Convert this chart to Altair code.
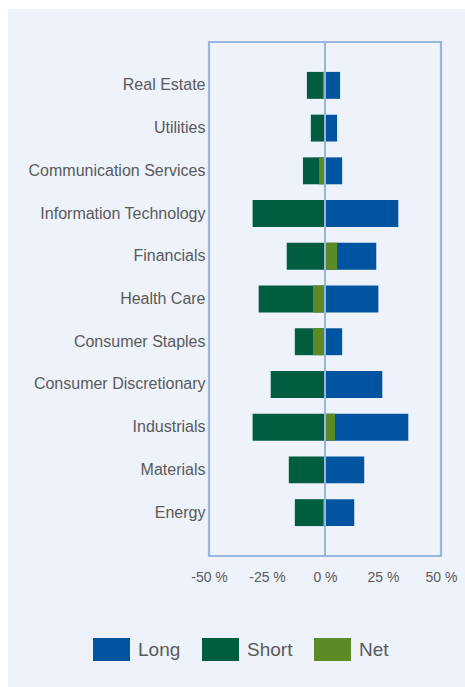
import altair as alt
import pandas as pd

sectors = ["Real Estate", "Utilities", "Communication Services", "Information Technology",
           "Financials", "Health Care", "Consumer Staples", "Consumer Discretionary",
           "Industrials", "Materials", "Energy"]
long_vals = [6.5, 5.2, 7.4, 31.6, 22.1, 23.0, 7.4, 24.7, 35.9, 16.9, 12.6]
short_vals = [-7.8, -6.1, -9.5, -31.2, -16.5, -28.6, -13.0, -23.4, -31.2, -15.6, -13.0]
net_vals = [-1.0, -0.3, -2.6, 0.3, 5.2, -5.2, -5.2, 0.4, 4.3, 0.4, -0.9]
series = ["Long", "Short", "Net"]
colors = ["#0054A0", "#005D40", "#5D8A27"]
x_ticks = [-50, -25, 0, 25, 50]

rows = []
for name, vals in zip(series, [long_vals, short_vals, net_vals]):
    for s, v in zip(sectors, vals):
        rows.append({"Sector": s, "Series": name, "Value": v})
df = pd.DataFrame(rows)

FRAME = "#98B6DB"
BG = "#EEF2FA"
TXT = "#5A5A5A"
W, H = 232, 514
L, T = 209, 42

bg = alt.Chart(pd.DataFrame({"a": [0]})).mark_rect(color=BG).encode(
    x=alt.value(8 - L), x2=alt.value(465 - L), y=alt.value(9 - T), y2=alt.value(687 - T)
)

bars = alt.Chart(df).mark_bar().encode(
    y=alt.Y("Sector:N", sort=sectors,
            scale=alt.Scale(paddingInner=0.37, paddingOuter=0.7),
            axis=alt.Axis(title=None, labelFontSize=16, labelFont="Liberation Sans",
                          labelColor=TXT, labelPadding=4, domain=False, ticks=False,
                          grid=False, zindex=1)),
    x=alt.X("Value:Q", stack=None,
            scale=alt.Scale(domain=[-50, 50], nice=False),
            axis=alt.Axis(title=None, values=x_ticks, labelExpr="datum.value + ' %'",
                          labelFontSize=14, labelFont="Liberation Sans",
                          labelColor=TXT, labelPadding=14, domain=False, ticks=False,
                          grid=False, zindex=1, labelFlush=False)),
    color=alt.Color("Series:N", scale=alt.Scale(domain=series, range=colors),
                    legend=alt.Legend(title=None, orient="none", direction="horizontal",
                                      legendX=-116, legendY=589, padding=0,
                                      symbolType="M-1,-0.62L1,-0.62L1,0.62L-1,0.62Z",
                                      symbolSize=1369, symbolStrokeWidth=0, symbolOpacity=1,
                                      labelFontSize=19, labelFont="Liberation Sans",
                                      labelColor=TXT, labelOffset=8, columnPadding=21)),
)

zero = alt.Chart(pd.DataFrame({"z": [0]})).mark_rule(color=FRAME, strokeWidth=2).encode(
    x=alt.X("z:Q")
)

frame = alt.Chart(pd.DataFrame({"a": [0]})).mark_rect(
    filled=False, stroke=FRAME, strokeWidth=2.2
).encode(x=alt.value(0), x2=alt.value(W), y=alt.value(0), y2=alt.value(H))

chart = alt.layer(bg, bars, zero, frame).properties(
    width=W, height=H,
    autosize=alt.AutoSizeParams(type="none"),
    padding={"left": L, "top": T, "right": 465 - L - W, "bottom": 687 - T - H},
    background="white",
).configure_view(stroke=None)

chart.save("out.html", embed_options={"renderer": "svg", "actions": False})
